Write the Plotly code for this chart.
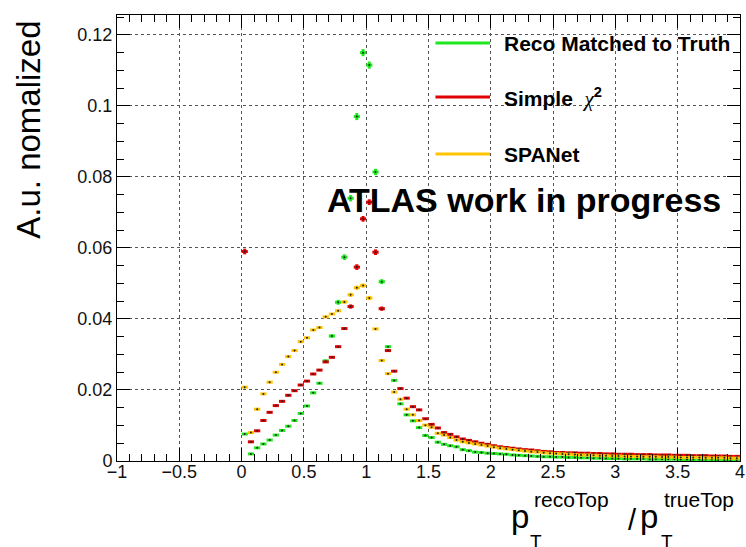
import plotly.graph_objects as go

# ---------------- data (bin width 0.05 from 0 to 4) ----------------
bin_centers = [round(0.025 + 0.05 * k, 3) for k in range(80)]

reco_matched = [
    0.0076, 0.0020, 0.0037, 0.0048, 0.0059, 0.0073, 0.0086, 0.0098, 0.0114, 0.0134,
    0.0155, 0.0192, 0.0219, 0.0282, 0.0352, 0.0447, 0.0574, 0.0740, 0.0970, 0.1150,
    0.1115, 0.0814, 0.0505, 0.0322, 0.0227, 0.0161, 0.0130, 0.0113, 0.0094, 0.0072,
    0.0066, 0.0053, 0.0047, 0.0043, 0.0040, 0.0032, 0.0029, 0.0025, 0.0024, 0.0022,
    0.0021, 0.0020, 0.0019, 0.0017, 0.0016, 0.0015, 0.0014, 0.0013, 0.0012, 0.0012,
    0.0011, 0.0011, 0.0010, 0.0010, 0.0009, 0.0009, 0.0008, 0.0008, 0.0007, 0.0007,
    0.0007, 0.0006, 0.0006, 0.0006, 0.0006, 0.0005, 0.0005, 0.0005, 0.0005, 0.0005,
    0.0004, 0.0004, 0.0004, 0.0004, 0.0004, 0.0004, 0.0003, 0.0003, 0.0003, 0.0003,
]

simple_chi2 = [
    0.0590, 0.0054, 0.0085, 0.0114, 0.0137, 0.0156, 0.0168, 0.0185, 0.0198, 0.0214,
    0.0225, 0.0245, 0.0256, 0.0279, 0.0292, 0.0322, 0.0373, 0.0435, 0.0546, 0.0682,
    0.0729, 0.0588, 0.0429, 0.0311, 0.0253, 0.0204, 0.0177, 0.0153, 0.0144, 0.0119,
    0.0103, 0.0093, 0.0080, 0.0075, 0.0068, 0.0062, 0.0058, 0.0054, 0.0050, 0.0047,
    0.0043, 0.0040, 0.0038, 0.0036, 0.0034, 0.0032, 0.0031, 0.0029, 0.0027, 0.0026,
    0.0024, 0.0024, 0.0023, 0.0023, 0.0022, 0.0022, 0.0021, 0.0021, 0.0020, 0.0020,
    0.0019, 0.0019, 0.0019, 0.0018, 0.0018, 0.0018, 0.0017, 0.0017, 0.0017, 0.0016,
    0.0016, 0.0016, 0.0015, 0.0015, 0.0015, 0.0014, 0.0014, 0.0014, 0.0013, 0.0013,
]

spanet = [
    0.0208, 0.0080, 0.0146, 0.0189, 0.0222, 0.0250, 0.0272, 0.0294, 0.0311, 0.0336,
    0.0347, 0.0369, 0.0376, 0.0406, 0.0414, 0.0423, 0.0448, 0.0468, 0.0488, 0.0494,
    0.0459, 0.0372, 0.0283, 0.0246, 0.0194, 0.0174, 0.0146, 0.0130, 0.0114, 0.0101,
    0.0095, 0.0078, 0.0073, 0.0066, 0.0059, 0.0054, 0.0051, 0.0048, 0.0045, 0.0042,
    0.0039, 0.0036, 0.0034, 0.0032, 0.0030, 0.0028, 0.0026, 0.0025, 0.0023, 0.0022,
    0.0021, 0.0020, 0.0019, 0.0018, 0.0017, 0.0017, 0.0016, 0.0015, 0.0015, 0.0014,
    0.0014, 0.0013, 0.0013, 0.0013, 0.0012, 0.0012, 0.0012, 0.0011, 0.0011, 0.0011,
    0.0010, 0.0010, 0.0010, 0.0010, 0.0009, 0.0009, 0.0009, 0.0009, 0.0008, 0.0008,
]

# statistical errors (only visible near the peak)
reco_err = [0] * 14 + [0.0005, 0.0007, 0.0008, 0.0009, 0.0010, 0.0010, 0.0010, 0.0009, 0.0007] + [0] * 57
chi2_err = [0.0008] + [0] * 16 + [0.0006, 0.0008, 0.0008, 0.0008, 0.0008, 0.0006] + [0] * 57
spanet_err = [0] * 16 + [0.0005, 0.0006, 0.0006, 0.0006, 0.0006] + [0] * 59

series_names = ["Reco Matched to Truth", "Simple  χ²", "SPANet"]
colors = ["#1fe81f", "#e00000", "#ffc400"]
half_bin = 0.025

# ---------------- figure ----------------
W, H = 746, 547
L, R, T, B = 117, 1, 15, 86
PW, PH = W - L - R, H - T - B
XMIN, XMAX = -1.0, 4.0
YMAX = 0.1256


def px(xpix):
    return (xpix - L) / PW


def py(ypix):
    return (H - B - ypix) / PH


fig = go.Figure()
for vals, errs, col, name in zip([reco_matched, simple_chi2, spanet],
                                 [reco_err, chi2_err, spanet_err], colors, series_names):
    fig.add_trace(go.Scatter(
        x=bin_centers, y=vals, mode="markers", name=name, showlegend=False,
        marker=dict(symbol="circle", size=2, color="#222222"),
        error_x=dict(type="constant", value=half_bin, thickness=3, width=0, color=col),
        error_y=dict(type="data", array=errs, thickness=3, width=0, color=col),
    ))

axis_common = dict(
    showline=True, linecolor="black", linewidth=1, mirror="allticks",
    ticks="inside", ticklen=13, tickwidth=1, tickcolor="black",
    showgrid=True, gridcolor="#555555", griddash="dot", gridwidth=1,
    zeroline=False,
    tickfont=dict(family="Liberation Sans, Arial, sans-serif", size=18, color="#111111"),
)

fig.update_xaxes(range=[XMIN, XMAX + 0.0005], dtick=0.5, tick0=0, ticklabelstandoff=-6,
                 ticklabeloverflow="allow",
                 minor=dict(ticks="inside", ticklen=7, dtick=0.1, tick0=0, tickcolor="black", showgrid=False),
                 **axis_common)
fig.update_yaxes(range=[0, YMAX], dtick=0.02, tick0=0,
                 minor=dict(ticks="inside", ticklen=7, dtick=0.005, tick0=0, tickcolor="black", showgrid=False),
                 **axis_common)

annotations = []
FONT = "Liberation Sans, Arial, sans-serif"


def text(t, xpix, ypix, size, xanchor="left", bold=False, angle=0):
    annotations.append(dict(
        text=(f"<b>{t}</b>" if bold else t), x=px(xpix), y=py(ypix), xref="paper", yref="paper",
        xanchor=xanchor, yanchor="middle", showarrow=False, textangle=angle,
        font=dict(family=FONT, size=size, color="black"),
    ))


# y-axis title
text("A.u. nomalized", 27, 130, 33, xanchor="center", angle=-90)

# x-axis title (TLatex style stacked sub/superscripts)
text("p", 512, 516, 33)
text("T", 531, 541, 19)
text("recoTop", 535, 500, 21)
text("/", 630, 520, 29)
text("p", 642, 516, 33)
text("T", 663, 541, 19)
text("trueTop", 666, 500, 21)

# ATLAS label
text("ATLAS work in progress", 527, 200, 34, xanchor="center", bold=True)

# legend
legend_y = [43, 97, 154]
legend_txt = ["<b>Reco Matched to Truth</b>",
              "<b>Simple</b>  <span style='font-family:Liberation Serif'><i>χ</i></span><sup><b>2</b></sup>",
              "<b>SPANet</b>"]
shapes = []
for yy, col, lt in zip(legend_y, colors, legend_txt):
    shapes.append(dict(type="line", xref="paper", yref="paper",
                       x0=px(438), x1=px(493), y0=py(yy), y1=py(yy),
                       line=dict(color=col, width=3)))
    text(lt, 505, yy + 0.5, 21)

fig.update_layout(
    width=W, height=H,
    margin=dict(l=L, r=R, t=T, b=B),
    paper_bgcolor="white", plot_bgcolor="white",
    showlegend=False,
    annotations=annotations, shapes=shapes,
)

fig.write_html("out.html")
